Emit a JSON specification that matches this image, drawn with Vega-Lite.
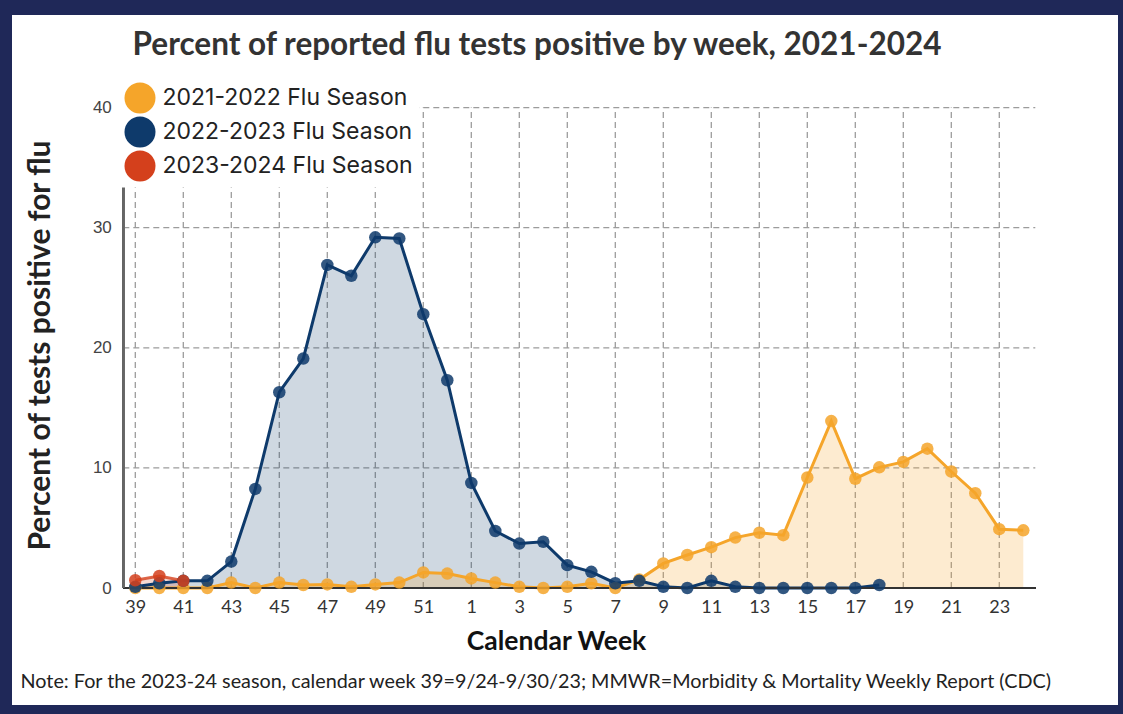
{
  "$schema": "https://vega.github.io/schema/vega-lite/v6.json",
  "width": 1106,
  "height": 690,
  "autosize": {"type": "none"},
  "padding": {"left": 12, "top": 15, "right": 5, "bottom": 9},
  "background": "#1F2858",
  "config": {"view": {"fill": "white", "stroke": null}, "font": "Lato"},
  "title": {
    "text": "Percent of reported flu tests positive by week, 2021-2024",
    "font": "Lato", "fontSize": 31.5, "fontWeight": "bold", "color": "#333333",
    "anchor": "middle", "dx": -28, "offset": -71, "baseline": "alphabetic"
  },
  "datasets": {
    "flu": [
      {"season": "2021-2022 Flu Season", "week": 39, "idx": 0, "pct": 0.0},
      {"season": "2021-2022 Flu Season", "week": 40, "idx": 1, "pct": 0.0},
      {"season": "2021-2022 Flu Season", "week": 41, "idx": 2, "pct": 0.0},
      {"season": "2021-2022 Flu Season", "week": 42, "idx": 3, "pct": 0.0},
      {"season": "2021-2022 Flu Season", "week": 43, "idx": 4, "pct": 0.45},
      {"season": "2021-2022 Flu Season", "week": 44, "idx": 5, "pct": 0.0},
      {"season": "2021-2022 Flu Season", "week": 45, "idx": 6, "pct": 0.45},
      {"season": "2021-2022 Flu Season", "week": 46, "idx": 7, "pct": 0.25},
      {"season": "2021-2022 Flu Season", "week": 47, "idx": 8, "pct": 0.3},
      {"season": "2021-2022 Flu Season", "week": 48, "idx": 9, "pct": 0.1},
      {"season": "2021-2022 Flu Season", "week": 49, "idx": 10, "pct": 0.3},
      {"season": "2021-2022 Flu Season", "week": 50, "idx": 11, "pct": 0.45},
      {"season": "2021-2022 Flu Season", "week": 51, "idx": 12, "pct": 1.3},
      {"season": "2021-2022 Flu Season", "week": 52, "idx": 13, "pct": 1.2},
      {"season": "2021-2022 Flu Season", "week": 1, "idx": 14, "pct": 0.8},
      {"season": "2021-2022 Flu Season", "week": 2, "idx": 15, "pct": 0.45},
      {"season": "2021-2022 Flu Season", "week": 3, "idx": 16, "pct": 0.1},
      {"season": "2021-2022 Flu Season", "week": 4, "idx": 17, "pct": 0.0},
      {"season": "2021-2022 Flu Season", "week": 5, "idx": 18, "pct": 0.1},
      {"season": "2021-2022 Flu Season", "week": 6, "idx": 19, "pct": 0.4},
      {"season": "2021-2022 Flu Season", "week": 7, "idx": 20, "pct": 0.0},
      {"season": "2021-2022 Flu Season", "week": 8, "idx": 21, "pct": 0.7},
      {"season": "2021-2022 Flu Season", "week": 9, "idx": 22, "pct": 2.05},
      {"season": "2021-2022 Flu Season", "week": 10, "idx": 23, "pct": 2.75},
      {"season": "2021-2022 Flu Season", "week": 11, "idx": 24, "pct": 3.4},
      {"season": "2021-2022 Flu Season", "week": 12, "idx": 25, "pct": 4.2},
      {"season": "2021-2022 Flu Season", "week": 13, "idx": 26, "pct": 4.6},
      {"season": "2021-2022 Flu Season", "week": 14, "idx": 27, "pct": 4.4},
      {"season": "2021-2022 Flu Season", "week": 15, "idx": 28, "pct": 9.2},
      {"season": "2021-2022 Flu Season", "week": 16, "idx": 29, "pct": 13.9},
      {"season": "2021-2022 Flu Season", "week": 17, "idx": 30, "pct": 9.1},
      {"season": "2021-2022 Flu Season", "week": 18, "idx": 31, "pct": 10.05},
      {"season": "2021-2022 Flu Season", "week": 19, "idx": 32, "pct": 10.5},
      {"season": "2021-2022 Flu Season", "week": 20, "idx": 33, "pct": 11.6},
      {"season": "2021-2022 Flu Season", "week": 21, "idx": 34, "pct": 9.7},
      {"season": "2021-2022 Flu Season", "week": 22, "idx": 35, "pct": 7.9},
      {"season": "2021-2022 Flu Season", "week": 23, "idx": 36, "pct": 4.9},
      {"season": "2021-2022 Flu Season", "week": 24, "idx": 37, "pct": 4.8},
      {"season": "2022-2023 Flu Season", "week": 39, "idx": 0, "pct": 0.1},
      {"season": "2022-2023 Flu Season", "week": 40, "idx": 1, "pct": 0.4},
      {"season": "2022-2023 Flu Season", "week": 41, "idx": 2, "pct": 0.6},
      {"season": "2022-2023 Flu Season", "week": 42, "idx": 3, "pct": 0.6},
      {"season": "2022-2023 Flu Season", "week": 43, "idx": 4, "pct": 2.2},
      {"season": "2022-2023 Flu Season", "week": 44, "idx": 5, "pct": 8.25},
      {"season": "2022-2023 Flu Season", "week": 45, "idx": 6, "pct": 16.3},
      {"season": "2022-2023 Flu Season", "week": 46, "idx": 7, "pct": 19.1},
      {"season": "2022-2023 Flu Season", "week": 47, "idx": 8, "pct": 26.9},
      {"season": "2022-2023 Flu Season", "week": 48, "idx": 9, "pct": 26.0},
      {"season": "2022-2023 Flu Season", "week": 49, "idx": 10, "pct": 29.2},
      {"season": "2022-2023 Flu Season", "week": 50, "idx": 11, "pct": 29.1},
      {"season": "2022-2023 Flu Season", "week": 51, "idx": 12, "pct": 22.8},
      {"season": "2022-2023 Flu Season", "week": 52, "idx": 13, "pct": 17.3},
      {"season": "2022-2023 Flu Season", "week": 1, "idx": 14, "pct": 8.75},
      {"season": "2022-2023 Flu Season", "week": 2, "idx": 15, "pct": 4.75},
      {"season": "2022-2023 Flu Season", "week": 3, "idx": 16, "pct": 3.7},
      {"season": "2022-2023 Flu Season", "week": 4, "idx": 17, "pct": 3.85},
      {"season": "2022-2023 Flu Season", "week": 5, "idx": 18, "pct": 1.9},
      {"season": "2022-2023 Flu Season", "week": 6, "idx": 19, "pct": 1.35},
      {"season": "2022-2023 Flu Season", "week": 7, "idx": 20, "pct": 0.4},
      {"season": "2022-2023 Flu Season", "week": 8, "idx": 21, "pct": 0.6},
      {"season": "2022-2023 Flu Season", "week": 9, "idx": 22, "pct": 0.1},
      {"season": "2022-2023 Flu Season", "week": 10, "idx": 23, "pct": 0.0},
      {"season": "2022-2023 Flu Season", "week": 11, "idx": 24, "pct": 0.6},
      {"season": "2022-2023 Flu Season", "week": 12, "idx": 25, "pct": 0.1},
      {"season": "2022-2023 Flu Season", "week": 13, "idx": 26, "pct": 0.0},
      {"season": "2022-2023 Flu Season", "week": 14, "idx": 27, "pct": 0.0},
      {"season": "2022-2023 Flu Season", "week": 15, "idx": 28, "pct": 0.0},
      {"season": "2022-2023 Flu Season", "week": 16, "idx": 29, "pct": 0.0},
      {"season": "2022-2023 Flu Season", "week": 17, "idx": 30, "pct": 0.0},
      {"season": "2022-2023 Flu Season", "week": 18, "idx": 31, "pct": 0.25},
      {"season": "2023-2024 Flu Season", "week": 39, "idx": 0, "pct": 0.65},
      {"season": "2023-2024 Flu Season", "week": 40, "idx": 1, "pct": 1.0},
      {"season": "2023-2024 Flu Season", "week": 41, "idx": 2, "pct": 0.6}
    ],
    "xgrid": [
      {"idx": 0}, {"idx": 2}, {"idx": 4}, {"idx": 6}, {"idx": 8}, {"idx": 10}, {"idx": 12},
      {"idx": 14}, {"idx": 16}, {"idx": 18}, {"idx": 20}, {"idx": 22}, {"idx": 24}, {"idx": 26},
      {"idx": 28}, {"idx": 30}, {"idx": 32}, {"idx": 34}, {"idx": 36}
    ],
    "ygrid": [{"v": 10}, {"v": 20}, {"v": 30}, {"v": 40}]
  },
  "resolve": {"axis": {"x": "independent"}},
  "layer": [
    {
      "data": {"name": "ygrid"},
      "mark": {"type": "rule", "color": "#9c9c9c", "strokeWidth": 1.3, "strokeDash": [6, 4]},
      "encoding": {
        "x": {"datum": -0.5, "type": "quantitative", "scale": {"domain": [-5.1375, 40.946], "nice": false, "zero": false}, "axis": null},
        "x2": {"datum": 37.5},
        "y": {"field": "v", "type": "quantitative", "scale": {"domain": [-9.74, 47.71], "nice": false, "zero": false}}
      }
    },
    {
      "data": {"name": "xgrid"},
      "mark": {"type": "rule", "color": "#9c9c9c", "strokeWidth": 1.3, "strokeDash": [6, 4]},
      "encoding": {
        "x": {
          "field": "idx", "type": "quantitative",
          "scale": {"domain": [-5.1375, 40.946], "nice": false, "zero": false},
          "axis": {
            "orient": "bottom", "offset": -117, "labels": false, "ticks": false, "domain": false, "grid": false,
            "title": "Note: For the 2023-24 season, calendar week 39=9/24-9/30/23; MMWR=Morbidity & Mortality Weekly Report (CDC)",
            "titleX": 8, "titleY": 99, "titleAlign": "left", "titleBaseline": "alphabetic", "titleLimit": 1200,
            "titleFont": "Lato", "titleFontSize": 19.8, "titleFontWeight": "normal", "titleColor": "#222222"
          }
        },
        "y": {"datum": 0, "type": "quantitative", "scale": {"domain": [-9.74, 47.71], "nice": false, "zero": false}},
        "y2": {"datum": 40}
      }
    },
    {
      "data": {"name": "flu"},
      "transform": [{"filter": "datum.season === '2022-2023 Flu Season'"}],
      "mark": {"type": "area", "color": "#0E3A6B", "fillOpacity": 0.2},
      "encoding": {
        "x": {"field": "idx", "type": "quantitative", "scale": {"domain": [-5.1375, 40.946], "nice": false, "zero": false}, "axis": null},
        "y": {"field": "pct", "type": "quantitative", "scale": {"domain": [-9.74, 47.71], "nice": false, "zero": false}}
      }
    },
    {
      "data": {"name": "flu"},
      "transform": [{"filter": "datum.season === '2021-2022 Flu Season'"}],
      "mark": {"type": "area", "color": "#F5A52A", "fillOpacity": 0.22},
      "encoding": {
        "x": {"field": "idx", "type": "quantitative", "scale": {"domain": [-5.1375, 40.946], "nice": false, "zero": false}, "axis": null},
        "y": {"field": "pct", "type": "quantitative", "scale": {"domain": [-9.74, 47.71], "nice": false, "zero": false}}
      }
    },
    {
      "data": {"name": "flu"},
      "transform": [{"filter": "datum.season === '2023-2024 Flu Season'"}],
      "mark": {"type": "area", "color": "#D4401C", "fillOpacity": 0.2},
      "encoding": {
        "x": {"field": "idx", "type": "quantitative", "scale": {"domain": [-5.1375, 40.946], "nice": false, "zero": false}, "axis": null},
        "y": {"field": "pct", "type": "quantitative", "scale": {"domain": [-9.74, 47.71], "nice": false, "zero": false}}
      }
    },
    {
      "data": {"name": "flu"},
      "transform": [{"filter": "datum.season === '2021-2022 Flu Season'"}],
      "mark": {"type": "line", "color": "#F5A52A", "strokeWidth": 3},
      "encoding": {
        "x": {"field": "idx", "type": "quantitative", "scale": {"domain": [-5.1375, 40.946], "nice": false, "zero": false}, "axis": null},
        "y": {"field": "pct", "type": "quantitative", "scale": {"domain": [-9.74, 47.71], "nice": false, "zero": false}}
      }
    },
    {
      "data": {"name": "flu"},
      "transform": [{"filter": "datum.season === '2022-2023 Flu Season'"}],
      "mark": {"type": "line", "color": "#0E3A6B", "strokeWidth": 3},
      "encoding": {
        "x": {"field": "idx", "type": "quantitative", "scale": {"domain": [-5.1375, 40.946], "nice": false, "zero": false}, "axis": null},
        "y": {"field": "pct", "type": "quantitative", "scale": {"domain": [-9.74, 47.71], "nice": false, "zero": false}}
      }
    },
    {
      "data": {"name": "flu"},
      "transform": [{"filter": "datum.season === '2023-2024 Flu Season'"}],
      "mark": {"type": "line", "color": "#D4401C", "strokeWidth": 3, "opacity": 0.8},
      "encoding": {
        "x": {"field": "idx", "type": "quantitative", "scale": {"domain": [-5.1375, 40.946], "nice": false, "zero": false}, "axis": null},
        "y": {"field": "pct", "type": "quantitative", "scale": {"domain": [-9.74, 47.71], "nice": false, "zero": false}}
      }
    },
    {
      "data": {"name": "flu"},
      "mark": {"type": "rule", "color": "#333333", "strokeWidth": 1.5},
      "encoding": {
        "x": {"datum": -0.5, "type": "quantitative", "scale": {"domain": [-5.1375, 40.946], "nice": false, "zero": false}, "axis": null},
        "x2": {"datum": 37.5},
        "y": {"datum": 0, "type": "quantitative", "scale": {"domain": [-9.74, 47.71], "nice": false, "zero": false}}
      }
    },
    {
      "data": {"name": "flu"},
      "mark": {"type": "rule", "color": "#666666", "strokeWidth": 1.5},
      "encoding": {
        "x": {"datum": -0.5, "type": "quantitative", "scale": {"domain": [-5.1375, 40.946], "nice": false, "zero": false}, "axis": null},
        "y": {"datum": 0, "type": "quantitative", "scale": {"domain": [-9.74, 47.71], "nice": false, "zero": false}},
        "y2": {"datum": 40}
      }
    },
    {
      "data": {"name": "flu"},
      "mark": {"type": "point", "filled": true, "size": 156, "opacity": 0.85},
      "encoding": {
        "x": {
          "field": "idx", "type": "quantitative",
          "scale": {"domain": [-5.1375, 40.946], "nice": false, "zero": false},
          "axis": {
            "orient": "bottom", "offset": -117, "values": [0, 2, 4, 6, 8, 10, 12, 14, 16, 18, 20, 22, 24, 26, 28, 30, 32, 34, 36],
            "labelExpr": "datum.value < 14 ? datum.value + 39 : datum.value - 13",
            "grid": false, "ticks": false, "domain": false, "labelPadding": 10, "labelFlush": false, "labelOverlap": false,
            "labelFont": "Lato", "labelFontSize": 18, "labelColor": "#333333",
            "title": "Calendar Week", "titleFont": "Lato", "titleFontSize": 26.5, "titleFontWeight": "bold", "titleColor": "#111111",
            "titleX": 544, "titleY": 61, "titleAlign": "center", "titleBaseline": "alphabetic"
          }
        },
        "y": {
          "field": "pct", "type": "quantitative",
          "scale": {"domain": [-9.74, 47.71], "nice": false, "zero": false},
          "axis": {
            "orient": "left", "offset": -111.3, "values": [0, 10, 20, 30, 40],
            "grid": false, "ticks": false, "domain": false, "labelPadding": 12, "labelFlush": false,
            "labelFont": "Liberation Sans", "labelFontSize": 17, "labelColor": "#444444",
            "title": "Percent of tests positive for flu", "titleFont": "Lato", "titleFontSize": 30, "titleFontWeight": "bold", "titleColor": "#222222",
            "titleX": -83, "titleY": 330, "titleAngle": 270, "titleAlign": "center", "titleBaseline": "middle"
          }
        },
        "color": {
          "field": "season", "type": "nominal",
          "scale": {"domain": ["2021-2022 Flu Season", "2022-2023 Flu Season", "2023-2024 Flu Season"], "range": ["#F5A52A", "#0E3A6B", "#D4401C"]},
          "legend": {
            "orient": "none", "legendX": 106.5, "legendY": 61.5, "direction": "vertical", "title": null,
            "symbolType": "circle", "symbolSize": 961, "symbolOpacity": 1, "symbolStrokeWidth": 0,
            "labelFont": "Inter", "labelFontSize": 23, "labelColor": "#222222", "labelOffset": 7, "labelLimit": 500, "rowPadding": 3,
            "padding": 6, "fillColor": "white", "strokeColor": null
          }
        }
      }
    }
  ]
}
